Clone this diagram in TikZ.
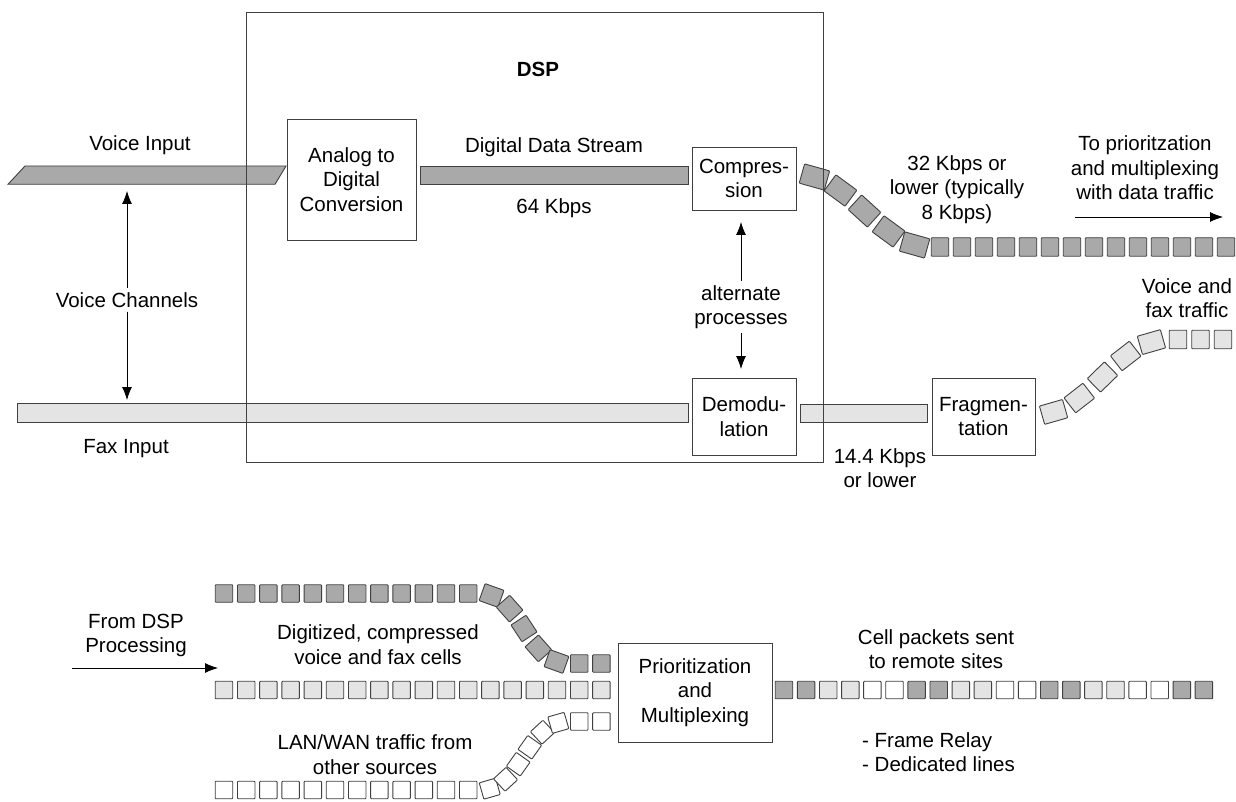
\documentclass[tikz,border=0pt]{standalone}
\usepackage{fontspec}
\setmainfont{Liberation Sans}
\usetikzlibrary{arrows.meta}
\definecolor{dk}{HTML}{A9A9A9}
\definecolor{lt}{HTML}{E4E4E4}
\definecolor{ln}{HTML}{404040}
\newcommand\dfont{\fontsize{20.5}{24.5}\selectfont}
\begin{document}
\begin{tikzpicture}[x=1pt,y=-1pt,
  txt/.style={font=\dfont,align=center,inner sep=0pt},
  procbox/.style={draw=ln,line width=0.9pt,fill=white,font=\dfont,align=center,inner sep=0pt},
  cell/.style={draw=ln,line width=0.9pt,minimum width=17.5pt,minimum height=18.5pt,inner sep=0pt,rounded corners=0.8pt},
  bcell/.style={draw=ln,line width=0.9pt,minimum width=17.5pt,minimum height=17.5pt,inner sep=0pt,rounded corners=0.8pt},
  ccell/.style={draw=ln,line width=0.9pt,minimum width=26pt,minimum height=20pt,inner sep=0pt,rounded corners=0.8pt,sloped},
  fccell/.style={draw=ln,line width=0.9pt,minimum width=24pt,minimum height=19pt,inner sep=0pt,rounded corners=0.8pt,sloped},
  bccell/.style={draw=ln,line width=0.9pt,minimum width=20pt,minimum height=18pt,inner sep=0pt,rounded corners=0.8pt,sloped},
  wccell/.style={draw=ln,line width=0.9pt,minimum width=17pt,minimum height=17pt,inner sep=0pt,rounded corners=0.8pt,sloped},
  arr/.style={-{Latex[length=13pt,width=10pt]},line width=0.8pt},
  bar/.style={draw=ln,line width=0.9pt}]
\useasboundingbox (0,0) rectangle (1236,802);

% ---------- bars ----------
\draw[bar,fill=dk] (8,184.3) -- (25,166) -- (286,166) -- (275,184.3) -- cycle;
\draw[bar,fill=dk] (420,166) rectangle (688,184);
\draw[bar,fill=lt] (17,403) rectangle (688,422);
\draw[bar,fill=lt] (800,404) rectangle (927,422);

% ---------- compressed voice cells ----------
\path (800,175) .. controls (850,175) and (879,247) .. (929,247)
  node[ccell,fill=dk,pos=0.1] (cc1) {}
  node[ccell,fill=dk,pos=0.3] (cc2) {}
  node[ccell,fill=dk,pos=0.5] (cc3) {}
  node[ccell,fill=dk,pos=0.7] (cc4) {}
  node[ccell,fill=dk,pos=0.9] (cc5) {};
\foreach \i in {0,...,13} \node[cell,fill=dk] (cs\i) at ({940+22*\i},247) {};

% ---------- fax cells ----------
\path (1039,414) .. controls (1090,414) and (1115,340) .. (1166,340)
  node[fccell,fill=lt,pos=0.1] (fc1) {}
  node[fccell,fill=lt,pos=0.3] (fc2) {}
  node[fccell,fill=lt,pos=0.5] (fc3) {}
  node[fccell,fill=lt,pos=0.7] (fc4) {}
  node[fccell,fill=lt,pos=0.9] (fc5) {};
\foreach \i in {0,1,2} \node[cell,fill=lt] (fs\i) at ({1178+22.5*\i},339.5) {};

% ---------- DSP frame ----------
\node[draw=ln,line width=0.9pt,minimum width=577pt,minimum height=450pt,inner sep=0pt] (dsp) at (534.5,237) {};
\node[txt,font=\dfont\bfseries] (dsplabel) at (538,69) {DSP};

% ---------- boxes ----------
\node[procbox,minimum width=129pt,minimum height=121pt] (adc) at (351.5,179.5) {Analog to\\Digital\\Conversion};
\node[procbox,minimum width=104pt,minimum height=63pt] (comp) at (744,178.5) {Compres-\\sion};
\node[procbox,minimum width=104pt,minimum height=77pt] (demod) at (744,416.5) {Demodu-\\lation};
\node[procbox,minimum width=103pt,minimum height=77pt] (frag) at (983.5,416.5) {Fragmen-\\tation};

% ---------- texts top ----------
\node[txt] (vin) at (140,145) {Voice Input};
\node[txt] (vch) at (127,300) {Voice Channels};
\node[txt] (fin) at (126,449) {Fax Input};
\node[txt] (dds) at (554,147) {Digital Data Stream};
\node[txt] (k64) at (554,208) {64 Kbps};
\node[txt] (k32) at (957,189.5) {32 Kbps or\\lower (typically\\8 Kbps)};
\node[txt] (toprio) at (1145,168) {To prioritzation\\and multiplexing\\with data traffic};
\node[txt] (alt) at (741,307) {alternate\\processes};
\node[txt] (vft) at (1187,298) {Voice and\\fax traffic};
\node[txt] (k14) at (880,468) {14.4 Kbps\\or lower};

% ---------- arrows top ----------
\coordinate (vtop) at (127,191);
\coordinate (vbot) at (127,400);
\draw[arr] ([yshift=4pt]vch.north) -- (vtop);
\draw[arr] ([yshift=-4pt]vch.south) -- (vbot);
\coordinate (alttop) at (741,222);
\coordinate (altbot) at (741,369);
\draw[arr] ([yshift=4pt]alt.north) -- (alttop);
\draw[arr] ([yshift=-4pt]alt.south) -- (altbot);
\coordinate (tpa) at (1075,217);
\coordinate (tpb) at (1223,217);
\draw[arr] (tpa) -- (tpb);

% ---------- bottom section ----------
\foreach \i in {0,...,11} \node[bcell,fill=dk] (dr\i) at ({224+22.2*\i},593.5) {};
\path (480,593.5) .. controls (522,593.5) and (526,663.5) .. (568,663.5)
  node[bccell,fill=dk,pos=0.1] (dc1) {}
  node[bccell,fill=dk,pos=0.3] (dc2) {}
  node[bccell,fill=dk,pos=0.5] (dc3) {}
  node[bccell,fill=dk,pos=0.7] (dc4) {}
  node[bccell,fill=dk,pos=0.9] (dc5) {};
\foreach \i in {16,17} \node[bcell,fill=dk] (dp\i) at ({224+22.2*\i},663.5) {};
\foreach \i in {0,...,17} \node[bcell,fill=lt] (lr\i) at ({224+22.2*\i},690) {};
\foreach \i in {16,17} \node[bcell,fill=white] (wp\i) at ({224+22.2*\i},721.5) {};
\foreach \i in {0,...,11} \node[bcell,fill=white] (wr\i) at ({224+22.2*\i},790) {};
\path (480,790) .. controls (522,790) and (526,721.5) .. (568,721.5)
  node[wccell,fill=white,pos=0.083] (wc1) {}
  node[wccell,fill=white,pos=0.25] (wc2) {}
  node[wccell,fill=white,pos=0.417] (wc3) {}
  node[wccell,fill=white,pos=0.583] (wc4) {}
  node[wccell,fill=white,pos=0.75] (wc5) {}
  node[wccell,fill=white,pos=0.917] (wc6) {};

\node[procbox,minimum width=154pt,minimum height=99pt] (prio) at (695,692.5) {Prioritization\\and\\Multiplexing};

\foreach \i/\c in {0/dk,1/dk,2/lt,3/lt,4/white,5/white,6/dk,7/dk,8/lt,9/lt,10/white,11/white,12/dk,13/dk,14/lt,15/lt,16/white,17/white,18/dk,19/dk}
  \node[bcell,fill=\c] (out\i) at ({784+22.1*\i},690) {};

\node[txt] (fromdsp) at (136,635.5) {From DSP\\Processing};
\coordinate (fda) at (72,668);
\coordinate (fdb) at (218,668);
\draw[arr] (fda) -- (fdb);
\node[txt] (dig) at (378,644.5) {Digitized, compressed\\voice and fax cells};
\node[txt] (lan) at (375,754.5) {LAN/WAN traffic from\\other sources};
\node[txt] (cps) at (936,649) {Cell packets sent\\to remote sites};
\node[txt,align=left,anchor=west] (lines) at (862,752) {- Frame Relay\\- Dedicated lines};
\end{tikzpicture}
\end{document}
